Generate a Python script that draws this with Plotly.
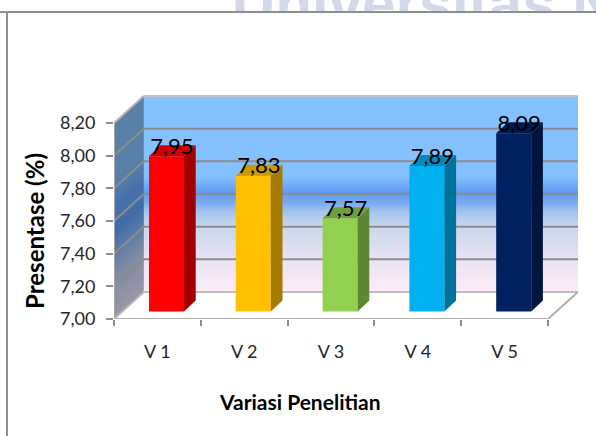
import plotly.graph_objects as go

# Chart values
categories = ["V 1", "V 2", "V 3", "V 4", "V 5"]
values = [7.95, 7.83, 7.57, 7.89, 8.09]
y_ticks = [7.0, 7.2, 7.4, 7.6, 7.8, 8.0, 8.2]
front_colors = ["#FF0000", "#FFC000", "#92D050", "#00B0F0", "#002060"]
top_colors = ["#CC0000", "#CC9A00", "#6F9E3C", "#008CBF", "#001A4D"]
side_colors = ["#A00000", "#A67C00", "#5F8733", "#00739C", "#00153F"]

# Page and plot-area geometry
W, H = 596, 436
LEFT, RIGHT, TOP, BOTTOM = 114, 578, 95, 319
PX_X = 86.8          # pixels per category
PX_Y = 163.33        # pixels per axis unit
X0, X1 = -0.5, -0.5 + (RIGHT - LEFT) / PX_X
Y0, Y1 = 7.0, 7.0 + (BOTTOM - TOP) / PX_Y

# Oblique depth of the fake 3D box and of each bar
DEPTH_X, DEPTH_Y = 29.7 / PX_X, 27 / PX_Y
BAR_W = 35 / PX_X
BAR_SHIFT_X, BAR_SHIFT_Y = 9.1 / PX_X, 7.6 / PX_Y
BAR_DX, BAR_DY = 11.7 / PX_X, 11 / PX_Y
LABEL_DX, LABEL_DY = 14.6 / PX_X, 8 / PX_Y + BAR_SHIFT_Y

GRID = "#8C8C8C"
EDGE = "#A6A6A6"
END_X = 4.5
FONT = "Lato"


def poly(xs, ys):
    return "M" + "L".join(f"{x:.4f},{y:.4f}" for x, y in zip(xs, ys)) + "Z"


def hex_rgb(c):
    return tuple(int(c[i:i + 2], 16) for i in (1, 3, 5))


def blend(stops, t):
    for (t0, c0), (t1, c1) in zip(stops, stops[1:]):
        if t <= t1:
            f = (t - t0) / (t1 - t0)
            a, b = hex_rgb(c0), hex_rgb(c1)
            return "rgb(%d,%d,%d)" % tuple(round(p + (q - p) * f) for p, q in zip(a, b))
    return stops[-1][1]


# Wall shading, bottom (0) to top (1) of the 7,00 - 8,20 span
back_stops = [(0, "#FDEBF8"), (0.167, "#E9E3F3"), (0.335, "#C9D7EC"), (0.41, "#A3C4EC"),
              (0.45, "#7FADF0"), (0.48, "#6AA3F2"), (0.51, "#5F9CF4"), (0.59, "#85C1FF"), (1, "#85C1FF")]
side_stops = [(0, "#9D96A6"), (0.22, "#7E8CA4"), (0.45, "#3F6DA8"), (0.56, "#4472AC"),
              (0.7, "#5880A8"), (1, "#5A80A6")]

shapes = []
STRIPS = 90
span = 8.2 - 7.0
for i in range(STRIPS):
    # Each strip runs under the next one so no seams show between them
    a = 7.0 + span * i / STRIPS
    b = min(7.0 + span * (i + 2) / STRIPS, 8.2)
    t = (i + 0.5) / STRIPS
    c_back = blend(back_stops, t)
    c_side = blend(side_stops, t)
    shapes.append(dict(type="path", xref="x", yref="y", layer="below", fillcolor=c_back,
                       line=dict(width=0),
                       path=poly([X0 + DEPTH_X, X1, X1, X0 + DEPTH_X],
                                 [a + DEPTH_Y, a + DEPTH_Y, b + DEPTH_Y, b + DEPTH_Y])))
    shapes.append(dict(type="path", xref="x", yref="y", layer="below", fillcolor=c_side,
                       line=dict(width=0),
                       path=poly([X0, X0 + DEPTH_X, X0 + DEPTH_X, X0],
                                 [a, a + DEPTH_Y, b + DEPTH_Y, b])))


def seg(x0, y0, x1, y1, color=GRID, width=2):
    shapes.append(dict(type="line", xref="x", yref="y", layer="below",
                       x0=x0, y0=y0, x1=x1, y1=y1, line=dict(color=color, width=width)))


# Gridlines across the back wall and along the side wall
for v in y_ticks[1:-1]:
    seg(X0, v, X0 + DEPTH_X, v + DEPTH_Y)
    seg(X0 + DEPTH_X, v + DEPTH_Y, X1, v + DEPTH_Y)

# Edges of the box
seg(X0, 7.0, X0, 8.2, EDGE)
seg(X0, 8.2, X0 + DEPTH_X, 8.2 + DEPTH_Y, "#B5B5B5")
seg(X0 + DEPTH_X, 8.2 + DEPTH_Y, X1, 8.2 + DEPTH_Y, "#C4C4C4")
seg(X0, 7.0, X0 + DEPTH_X, 7.0 + DEPTH_Y, "#B5B5B5")
seg(X0 + DEPTH_X, 7.0 + DEPTH_Y, X1, 7.0 + DEPTH_Y, "#BDBDBD")
seg(X0, 7.0, END_X, 7.0, "#AFAFAF")
seg(END_X, 7.0, X1, 7.0 + DEPTH_Y, "#AFAFAF")

# Page frame around the chart, open at the right and bottom
shapes.append(dict(type="line", xref="paper", yref="paper", layer="below",
                   x0=-LEFT / (RIGHT - LEFT), x1=(W - LEFT) / (RIGHT - LEFT), y0=(BOTTOM - 12) / (BOTTOM - TOP),
                   y1=(BOTTOM - 12) / (BOTTOM - TOP), line=dict(color="#8E8E8E", width=2)))
shapes.append(dict(type="line", xref="paper", yref="paper", layer="below",
                   x0=(7 - LEFT) / (RIGHT - LEFT), x1=(7 - LEFT) / (RIGHT - LEFT),
                   y0=(BOTTOM - 12) / (BOTTOM - TOP), y1=(BOTTOM - H) / (BOTTOM - TOP),
                   line=dict(color="#8E8E8E", width=2)))

fig = go.Figure()

# Side and top faces of every bar, worked out from its value
for i, v in enumerate(values):
    left = i + BAR_SHIFT_X - BAR_W / 2
    right = left + BAR_W
    base = 7.0 + BAR_SHIFT_Y
    top = v + BAR_SHIFT_Y
    fig.add_trace(go.Scatter(
        x=[right, right + BAR_DX, right + BAR_DX, right, right],
        y=[base, base + BAR_DY, top + BAR_DY, top, base],
        mode="lines", fill="toself", fillcolor=side_colors[i],
        line=dict(width=0), hoverinfo="skip", showlegend=False))
    fig.add_trace(go.Scatter(
        x=[left, left + BAR_DX, right + BAR_DX, right, left],
        y=[top, top + BAR_DY, top + BAR_DY, top, top],
        mode="lines", fill="toself", fillcolor=top_colors[i],
        line=dict(width=0), hoverinfo="skip", showlegend=False))

# Front faces
fig.add_trace(go.Bar(
    x=list(range(len(values))),
    y=[v - 7.0 for v in values],
    base=7.0 + BAR_SHIFT_Y,
    width=BAR_W,
    offset=BAR_SHIFT_X - BAR_W / 2,
    marker=dict(color=front_colors, line=dict(width=0)),
    showlegend=False,
))

# Value labels sitting on the bar tops
fig.add_trace(go.Scatter(
    x=[i + LABEL_DX for i in range(len(values))],
    y=[v + LABEL_DY for v in values],
    mode="text",
    text=[f"{v:.2f}".replace(".", ",") for v in values],
    textposition="middle center",
    textfont=dict(family=FONT, size=22, color="#000000"),
    hoverinfo="skip", showlegend=False,
))

TEXT = "#262626"
fig.update_layout(
    width=W, height=H, autosize=False,
    margin=dict(l=LEFT, r=W - RIGHT, t=TOP, b=H - BOTTOM, pad=0),
    paper_bgcolor="white", plot_bgcolor="rgba(0,0,0,0)",
    separators=", ",
    shapes=shapes,
    barmode="overlay",
    xaxis=dict(range=[X0, X1], tickmode="array", tickvals=list(range(5)), ticktext=categories,
               ticks="", showgrid=False, zeroline=False, showline=False, ticklabelstandoff=20,
               tickfont=dict(family=FONT, size=18, color=TEXT),
               minor=dict(tickmode="array", tickvals=[k - 0.5 for k in range(6)], ticks="outside",
                          ticklen=6, tickwidth=2, tickcolor=GRID, showgrid=False)),
    yaxis=dict(range=[Y0, Y1], tickmode="array", tickvals=y_ticks, tickformat=".2f",
               ticks="outside", ticklen=7, tickwidth=2, tickcolor=GRID, showgrid=False,
               zeroline=False, showline=False, ticklabelstandoff=7,
               tickfont=dict(family=FONT, size=18, color=TEXT)),
    annotations=[
        dict(text="<b>Presentase (%)</b>", xref="paper", yref="paper", showarrow=False, textangle=-90,
             xanchor="center", yanchor="middle",
             x=(34 - LEFT) / (RIGHT - LEFT), y=(BOTTOM - 231) / (BOTTOM - TOP),
             font=dict(family=FONT, size=24, color="#000000")),
        dict(text="<b>Variasi Penelitian</b>", xref="paper", yref="paper", showarrow=False,
             xanchor="center", yanchor="middle",
             x=(299 - LEFT) / (RIGHT - LEFT), y=(BOTTOM - 401) / (BOTTOM - TOP),
             font=dict(family=FONT, size=21, color="#000000")),
        # Letterhead lettering above the frame, clipped at the frame line
        dict(text="<b>Universitas N</b>", xref="paper", yref="paper", showarrow=False,
             xanchor="left", yanchor="top", align="left", valign="top",
             x=(232 - LEFT) / (RIGHT - LEFT), y=(BOTTOM + 30) / (BOTTOM - TOP),
             width=400, height=41, borderpad=0, borderwidth=0,
             font=dict(family="Liberation Sans", size=60, color="#D4D9E9")),
    ],
)

fig.write_html("out.html")
